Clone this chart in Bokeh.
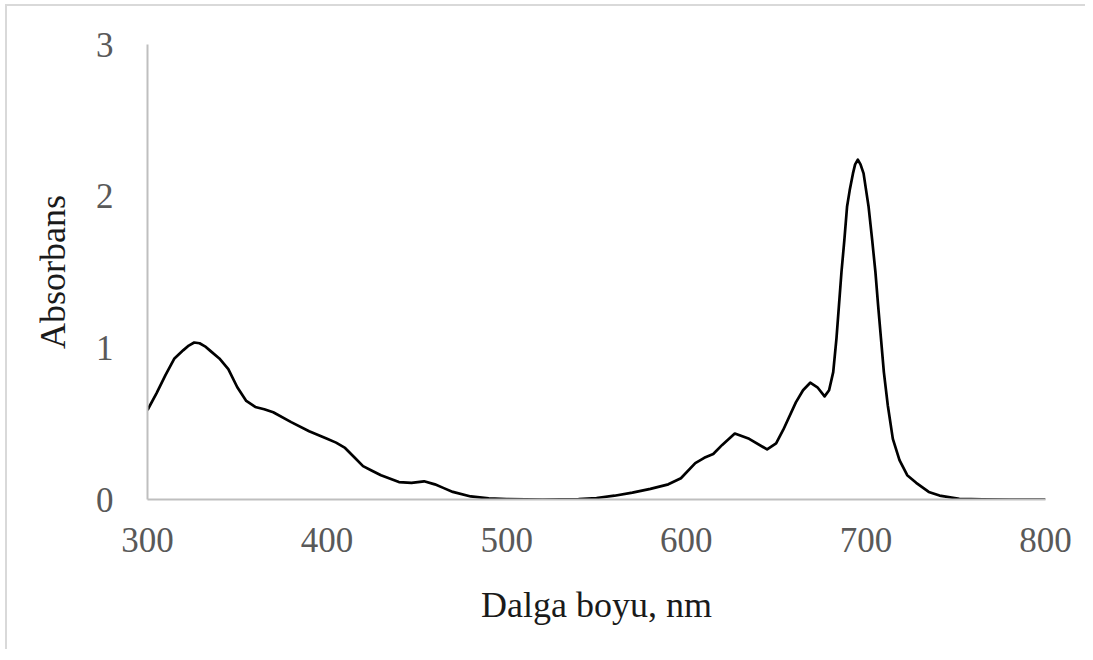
from bokeh.plotting import figure
from bokeh.models import FixedTicker, Range1d
from bokeh.embed import file_html
from bokeh.resources import INLINE

# Wavelength (nm) and absorbance
wavelength = [300, 305, 310, 315, 320, 323, 326, 329, 332, 335, 340, 345, 350, 355, 360, 365, 370,
              380, 390, 400, 405, 410, 415, 420, 425, 430, 440, 447, 454, 460, 465, 470, 480, 490,
              500, 520, 540, 550, 560, 570, 580, 590, 597, 605, 610, 615, 620, 627, 635, 645,
              650, 654, 661, 665, 669, 673, 677, 679.5, 681.8, 683.6, 685, 686.4, 688, 689.5,
              691, 692.8, 694, 695.5, 697, 698.7, 700.1, 701.5, 703.5, 705.3, 706.8, 708.4, 710,
              712.2, 715, 718.7, 723, 728, 735, 741, 752, 765, 780, 800]
absorbance = [0.59, 0.70, 0.82, 0.93, 0.985, 1.015, 1.035, 1.03, 1.01, 0.98, 0.93, 0.86, 0.74, 0.65, 0.61, 0.595, 0.575,
              0.51, 0.45, 0.40, 0.375, 0.34, 0.28, 0.22, 0.19, 0.16, 0.115, 0.11, 0.12, 0.10, 0.075, 0.05, 0.02, 0.008,
              0.003, 0.0, 0.003, 0.01, 0.025, 0.045, 0.07, 0.10, 0.14, 0.24, 0.275, 0.30, 0.36, 0.435, 0.40, 0.33,
              0.37, 0.46, 0.64, 0.72, 0.77, 0.74, 0.68, 0.72, 0.84, 1.06, 1.28, 1.50, 1.71, 1.93,
              2.04, 2.15, 2.21, 2.24, 2.21, 2.15, 2.04, 1.93, 1.71, 1.50, 1.28, 1.06, 0.84,
              0.62, 0.40, 0.26, 0.16, 0.11, 0.05, 0.026, 0.005, 0.001, 0.0, 0.0]

x_ticks = [300, 400, 500, 600, 700, 800]
y_ticks = [0, 1, 2, 3]
x_title = "Dalga boyu, nm"
y_title = "Absorbans"

FONT = "Liberation Serif"

p = figure(width=1080, height=645, output_backend="svg", toolbar_location=None,
           x_range=Range1d(300, 800), y_range=Range1d(0, 3),
           min_border_left=140, min_border_right=42, min_border_top=38, min_border_bottom=152)
p.styles = {"border-top": "2px solid #d9d9d9", "border-left": "2px solid #d9d9d9",
            "margin-left": "5px", "margin-top": "4px"}

p.line(wavelength, absorbance, line_color="black", line_width=2.7, line_join="round")

p.grid.visible = False
p.outline_line_color = None
p.background_fill_color = "white"
p.border_fill_color = "white"

for ax in (p.xaxis[0], p.yaxis[0]):
    ax.axis_line_color = "#bfbfbf"
    ax.axis_line_width = 2
    ax.major_tick_line_color = None
    ax.minor_tick_line_color = None
    ax.major_label_text_font = FONT
    ax.major_label_text_font_size = "35px"
    ax.major_label_text_color = "#595959"
    ax.axis_label_text_font = FONT
    ax.axis_label_text_font_size = "36px"
    ax.axis_label_text_font_style = "normal"
    ax.axis_label_text_color = "#1a1a1a"

p.xaxis.ticker = FixedTicker(ticks=x_ticks)
p.yaxis.ticker = FixedTicker(ticks=y_ticks)
p.xaxis.axis_label = x_title
p.yaxis.axis_label = y_title
p.xaxis.major_label_standoff = 22
p.xaxis.axis_label_standoff = 30
p.yaxis.major_label_standoff = 28
p.yaxis.axis_label_standoff = 20

open("out.html", "w").write(file_html(p, INLINE))
